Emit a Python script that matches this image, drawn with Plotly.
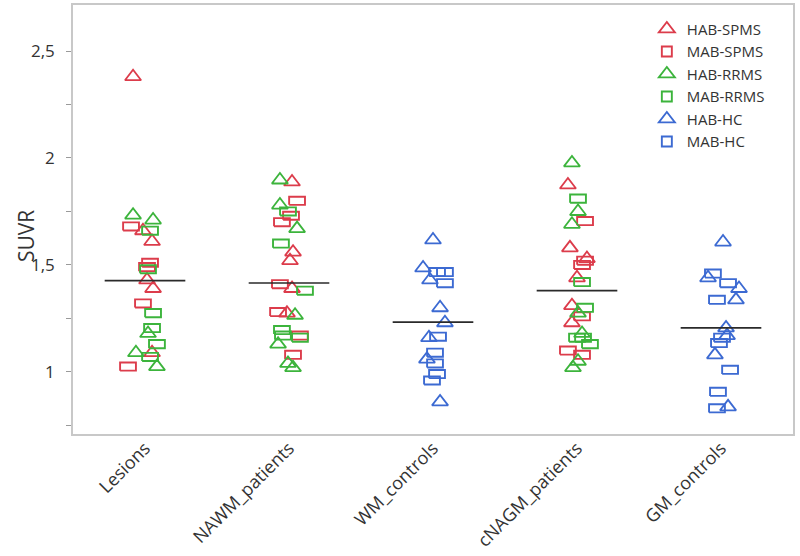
import plotly.graph_objects as go

categories = ["Lesions", "NAWM_patients", "WM_controls", "cNAGM_patients", "GM_controls"]
y_tick_vals = [1, 1.5, 2, 2.5]
y_tick_text = ["1", "1,5", "2", "2,5"]
y_minor_vals = [0.75, 1.25, 1.75, 2.25]
y_title = "SUVR"
group_means = [1.427, 1.416, 1.233, 1.38, 1.206]

# HAB-SPMS (triangles, red)
hab_spms_cat = [0, 0, 0, 0, 0, 0, 1, 1, 1, 1, 1, 3, 3, 3, 3, 3, 3]
hab_spms_val = [2.38, 1.66, 1.61, 1.43, 1.39, 1.09, 1.888, 1.56, 1.52, 1.39, 1.275, 1.874, 1.58, 1.53, 1.44, 1.31, 1.23]
hab_spms_jit = [-0.083, -0.014, 0.049, 0.014, 0.056, 0.049, 0.021, 0.028, 0.007, 0.021, -0.014, -0.063, -0.049, 0.069, 0.0, -0.035, -0.035]

# MAB-SPMS (rectangles, red)
mab_spms_cat = [0, 0, 0, 0, 0, 1, 1, 1, 1, 1, 1, 1, 3, 3, 3, 3, 3, 3]
mab_spms_val = [1.68, 1.51, 1.49, 1.32, 1.025, 1.80, 1.73, 1.70, 1.41, 1.28, 1.17, 1.08, 1.705, 1.52, 1.50, 1.26, 1.10, 1.08]
mab_spms_jit = [-0.097, 0.035, 0.014, -0.014, -0.118, 0.056, 0.014, -0.049, -0.063, -0.076, 0.076, 0.028, 0.056, 0.056, 0.035, 0.035, -0.063, 0.035]

# HAB-RRMS (triangles, green)
hab_rrms_cat = [0, 0, 0, 0, 0, 1, 1, 1, 1, 1, 1, 1, 3, 3, 3, 3, 3, 3, 3]
hab_rrms_val = [1.733, 1.71, 1.18, 1.09, 1.025, 1.897, 1.78, 1.67, 1.265, 1.13, 1.04, 1.02, 1.977, 1.75, 1.69, 1.275, 1.18, 1.05, 1.02]
hab_rrms_jit = [-0.083, 0.056, 0.021, -0.063, 0.083, -0.063, -0.063, 0.056, 0.042, -0.076, -0.007, 0.028, -0.035, 0.007, -0.035, 0.007, 0.035, 0.007, -0.028]

# MAB-RRMS (rectangles, green)
mab_rrms_cat = [0, 0, 0, 0, 0, 0, 1, 1, 1, 1, 1, 1, 3, 3, 3, 3, 3, 3]
mab_rrms_val = [1.66, 1.48, 1.275, 1.205, 1.13, 1.07, 1.75, 1.60, 1.38, 1.196, 1.17, 1.16, 1.81, 1.42, 1.30, 1.16, 1.16, 1.13]
mab_rrms_jit = [0.035, 0.021, 0.056, 0.049, 0.083, 0.035, -0.007, -0.056, 0.111, -0.049, -0.042, 0.076, 0.007, 0.035, 0.056, 0.0, 0.042, 0.090]

# HAB-HC (triangles, blue)
hab_hc_cat = [2, 2, 2, 2, 2, 2, 2, 2, 4, 4, 4, 4, 4, 4, 4, 4]
hab_hc_val = [1.617, 1.486, 1.43, 1.30, 1.23, 1.16, 1.06, 0.86, 1.607, 1.44, 1.39, 1.337, 1.206, 1.17, 1.08, 0.837]
hab_hc_jit = [0.0, -0.069, -0.021, 0.049, 0.083, -0.028, -0.042, 0.049, 0.014, -0.09, 0.125, 0.104, 0.035, 0.042, -0.042, 0.049]

# MAB-HC (rectangles, blue)
mab_hc_cat = [2, 2, 2, 2, 2, 2, 2, 2, 4, 4, 4, 4, 4, 4, 4, 4]
mab_hc_val = [1.467, 1.467, 1.415, 1.165, 1.09, 1.04, 0.99, 0.96, 1.46, 1.415, 1.337, 1.16, 1.135, 1.01, 0.907, 0.83]
mab_hc_jit = [0.028, 0.083, 0.083, 0.035, 0.014, 0.014, 0.028, -0.007, -0.056, 0.049, -0.028, 0.007, -0.014, 0.063, -0.021, -0.028]

RED = "#dc3c4b"
GREEN = "#3cb43c"
BLUE = "#3c6ad2"

Y_MIN, Y_MAX = 0.71, 2.715
RECT_DX = 0.055   # half width in category units
RECT_DY = 0.019   # half height in SUVR units

fig = go.Figure()


def add_triangles(name, cats, vals, jits, color, rank):
    fig.add_trace(go.Scatter(
        x=[c + j for c, j in zip(cats, jits)], y=vals, mode="markers", name=name,
        marker=dict(symbol="triangle-up-open", size=14, color=color, line=dict(width=1.8, color=color)),
        legendrank=rank, hoverinfo="skip"))


def add_rects(name, cats, vals, jits, color, rank):
    xs, ys = [], []
    for c, j, v in zip(cats, jits, vals):
        x = c + j
        xs += [x - RECT_DX, x + RECT_DX, x + RECT_DX, x - RECT_DX, x - RECT_DX, None]
        ys += [v - RECT_DY, v - RECT_DY, v + RECT_DY, v + RECT_DY, v - RECT_DY, None]
    fig.add_trace(go.Scatter(x=xs, y=ys, mode="lines", line=dict(color=color, width=1.9),
                             showlegend=False, legendgroup=name, hoverinfo="skip"))
    fig.add_trace(go.Scatter(x=[None], y=[None], mode="markers", name=name, legendgroup=name,
                             marker=dict(symbol="square-open", size=10, color=color, line=dict(width=1.9, color=color)),
                             legendrank=rank))


add_triangles("HAB-SPMS", hab_spms_cat, hab_spms_val, hab_spms_jit, RED, 1)
add_rects("MAB-SPMS", mab_spms_cat, mab_spms_val, mab_spms_jit, RED, 2)
add_triangles("HAB-RRMS", hab_rrms_cat, hab_rrms_val, hab_rrms_jit, GREEN, 3)
add_rects("MAB-RRMS", mab_rrms_cat, mab_rrms_val, mab_rrms_jit, GREEN, 4)
add_triangles("HAB-HC", hab_hc_cat, hab_hc_val, hab_hc_jit, BLUE, 5)
add_rects("MAB-HC", mab_hc_cat, mab_hc_val, mab_hc_jit, BLUE, 6)

# mean lines
mx, my = [], []
for i, m in enumerate(group_means):
    mx += [i - 0.28, i + 0.28, None]
    my += [m, m, None]
fig.add_trace(go.Scatter(x=mx, y=my, mode="lines", line=dict(color="#2a2a2a", width=1.6),
                         showlegend=False, hoverinfo="skip"))

FONT = "Open Sans"
fig.update_layout(
    width=800, height=556,
    margin=dict(l=73, r=7, t=5, b=122, autoexpand=False),
    paper_bgcolor="white", plot_bgcolor="white",
    font=dict(family=FONT, color="#333333", size=15),
    showlegend=True,
    legend=dict(x=0.797, y=0.982, xanchor="left", yanchor="top", bgcolor="rgba(0,0,0,0)",
                font=dict(size=15, color="#333333"), tracegroupgap=0, itemsizing="trace"),
    xaxis=dict(range=[-0.5, 4.5], tickmode="array", tickvals=list(range(len(categories))),
               ticktext=categories, tickangle=-45, showgrid=False, zeroline=False,
               showline=True, mirror=True, linecolor="#c8c8c8", linewidth=1.5, ticks="",
               automargin=False, ticklabelstandoff=-5,
               tickfont=dict(size=18, color="#333333")),
    yaxis=dict(range=[Y_MIN, Y_MAX], tickmode="array", tickvals=y_tick_vals, ticktext=y_tick_text,
               showgrid=False, zeroline=False, showline=True, mirror=True, linecolor="#c8c8c8",
               linewidth=1.5, ticks="outside", ticklen=5, tickcolor="#9a9a9a", automargin=False,
               ticklabelstandoff=8,
               minor=dict(tickvals=y_minor_vals, ticks="outside", ticklen=5, tickcolor="#9a9a9a"),
               tickfont=dict(size=17, color="#333333")),
    annotations=[dict(text=y_title, xref="paper", yref="paper", x=(26 - 73) / 720, y=1 - (236 - 5) / 429,
                      xanchor="center", yanchor="middle", textangle=-90, showarrow=False,
                      font=dict(size=21, color="#333333"))],
)

fig.write_html("out.html", config={"displayModeBar": False},
               post_script="document.body.style.margin='0';")
